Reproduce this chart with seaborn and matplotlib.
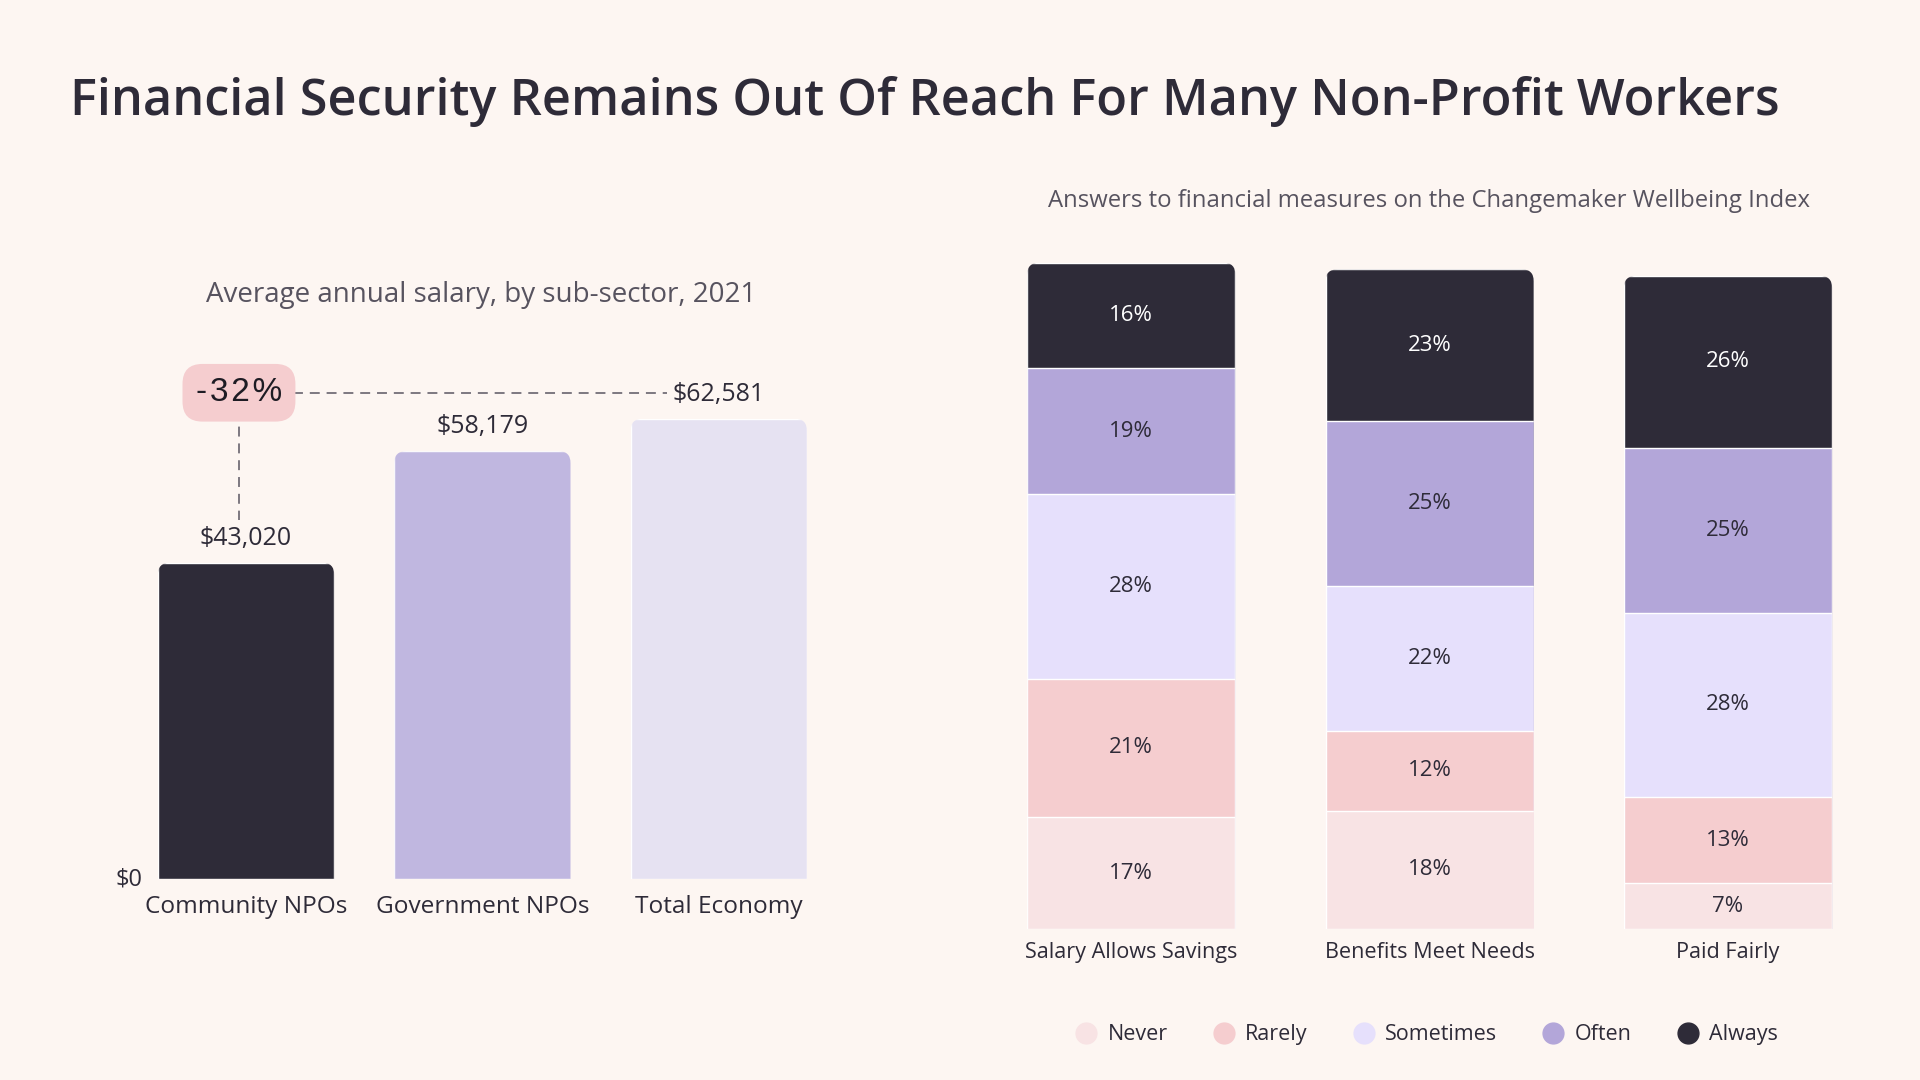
import numpy as np
import pandas as pd
import matplotlib.pyplot as plt
import seaborn as sns
from matplotlib.patches import FancyBboxPatch
from matplotlib.lines import Line2D

# ── data ─────────────────────────────────────
sectors = ["Community NPOs", "Government NPOs", "Total Economy"]
salaries = [43020, 58179, 62581]
gap_label = "-32%"

measures = ["Salary Allows Savings", "Benefits Meet Needs", "Paid Fairly"]
answers = ["Never", "Rarely", "Sometimes", "Often", "Always"]
never = [17, 18, 7]
rarely = [21, 12, 13]
sometimes = [28, 22, 28]
often = [19, 25, 25]
always = [16, 23, 26]

# ── style ────────────────────────────────────
BG = "#FDF6F2"
INK = "#2E2B38"
SUB = "#57535F"
salary_colors = ["#2E2B38", "#C0B7E0", "#E6E2F2"]
answer_colors = ["#F8E3E4", "#F5CDCF", "#E6E0FC", "#B3A6D9", "#2E2B38"]

sns.set_theme(style="white")
plt.rcParams["font.family"] = ["Open Sans", "DejaVu Sans"]

fig = plt.figure(figsize=(19.2, 10.8), dpi=100, facecolor=BG)
ax1 = fig.add_axes([0.0666, 0.1859, 0.3693, 0.4769])
ax2 = fig.add_axes([0.5115, 0.1395, 0.4662, 0.6417])
for ax in (ax1, ax2):
    ax.set_facecolor("none")
    sns.despine(ax=ax, left=True, bottom=True)


def px_per_unit(ax):
    x0, y0 = ax.transData.transform((0, 0))
    x1, y1 = ax.transData.transform((1, 1))
    return x1 - x0, y1 - y0


def round_tops(ax, tops, radius_px=12):
    # clip every bar of a column to a box with rounded upper corners
    sx, sy = px_per_unit(ax)
    rx, ry = radius_px / sx, radius_px / sy
    for bar in ax.patches:
        i = int(round(bar.get_x() + bar.get_width() / 2))
        clip = FancyBboxPatch((bar.get_x(), -2 * ry), bar.get_width(), tops[i] + 2 * ry,
                              boxstyle=f"round,pad=0,rounding_size={rx}",
                              mutation_aspect=ry / rx, transform=ax.transData)
        bar.set_clip_path(clip)


# ── left: average salary ─────────────────────
sal_df = pd.DataFrame({"sector": sectors, "salary": salaries})
sns.barplot(data=sal_df, x="sector", y="salary", hue="sector", palette=salary_colors,
            saturation=1, width=0.746, legend=False, ax=ax1)
ax1.set_xlim(-0.5, 2.5)
ax1.set_ylim(0, 70000)
round_tops(ax1, salaries)

for i, v in enumerate(salaries):
    ax1.annotate(f"${v:,}", xy=(i, v), xytext=(0, 17.5), textcoords="offset points",
                 ha="center", va="center", fontsize=18, color=INK)

ax1.text(-0.44, 0, "$0", ha="right", va="center", fontsize=17, color=INK)

# gap callout: dashed guide from community label up to the total-economy level
sx, sy = px_per_unit(ax1)
line_y = salaries[2] + 26 / sy
badge_x = -0.03
ax1.plot([0.2, 1.78], [line_y, line_y], color="#5A5662", lw=1.1,
         dashes=(6.5, 4.5), clip_on=False)
ax1.plot([badge_x, badge_x], [line_y, salaries[0] + 43 / sy], color="#5A5662", lw=1.1,
         dashes=(6.5, 4.5), clip_on=False)
ax1.text(badge_x, line_y, "\u200a".join(gap_label), ha="center", va="center", fontsize=24,
         family=["Liberation Sans", "DejaVu Sans"], color="#1E1C24", zorder=5,
         bbox=dict(boxstyle="round,pad=0.4,rounding_size=0.6", fc="#F5CDCF", ec="none"))

ax1.set_xticks(range(len(sectors)))
ax1.set_xticklabels(sectors, fontsize=17.6, color=INK)
ax1.set_yticks([])
ax1.set_xlabel("")
ax1.set_ylabel("")
ax1.tick_params(axis="x", length=0, pad=11)

# ── right: stacked answers ───────────────────
layers = [never, rarely, sometimes, often, always]
cum = np.cumsum(layers, axis=0)
for k in range(len(layers) - 1, -1, -1):
    sns.barplot(x=measures, y=cum[k], color=answer_colors[k], saturation=1,
                width=0.698, ax=ax2)
ax2.set_xlim(-0.5, 2.5)
ax2.set_ylim(0, 105)
round_tops(ax2, cum[-1])

for k, layer in enumerate(layers):
    for i, v in enumerate(layer):
        ax2.text(i, cum[k][i] - v / 2, f"{v}%", ha="center", va="center", fontsize=16,
                 color="white" if k == len(layers) - 1 else INK)

ax2.set_xticks(range(len(measures)))
ax2.set_xticklabels(measures, fontsize=15.6, color=INK)
ax2.set_yticks([])
ax2.set_xlabel("")
ax2.set_ylabel("")
ax2.tick_params(axis="x", length=0, pad=9)

handles = [Line2D([], [], marker="o", ls="none", markersize=15,
                  markerfacecolor=c, markeredgecolor=c) for c in answer_colors]
fig.legend(handles, answers, loc="center", bbox_to_anchor=(0.743, 0.042), ncol=5,
           frameon=False, fontsize=15.5, handlelength=1.0, handletextpad=0.5,
           columnspacing=2.1, labelcolor=INK)

# ── titles ───────────────────────────────────
fig.text(0.0364, 0.9063, "Financial Security Remains Out Of Reach For Many Non-Profit Workers",
         ha="left", va="center", fontsize=36.4, fontweight="semibold", color=INK)
fig.text(0.2506, 0.7268, "Average annual salary, by sub-sector, 2021",
         ha="center", va="center", fontsize=20, color=SUB)
fig.text(0.7443, 0.8141, "Answers to financial measures on the Changemaker Wellbeing Index",
         ha="center", va="center", fontsize=17.2, color=SUB)

fig.savefig("out.png", dpi=100, facecolor=BG)
